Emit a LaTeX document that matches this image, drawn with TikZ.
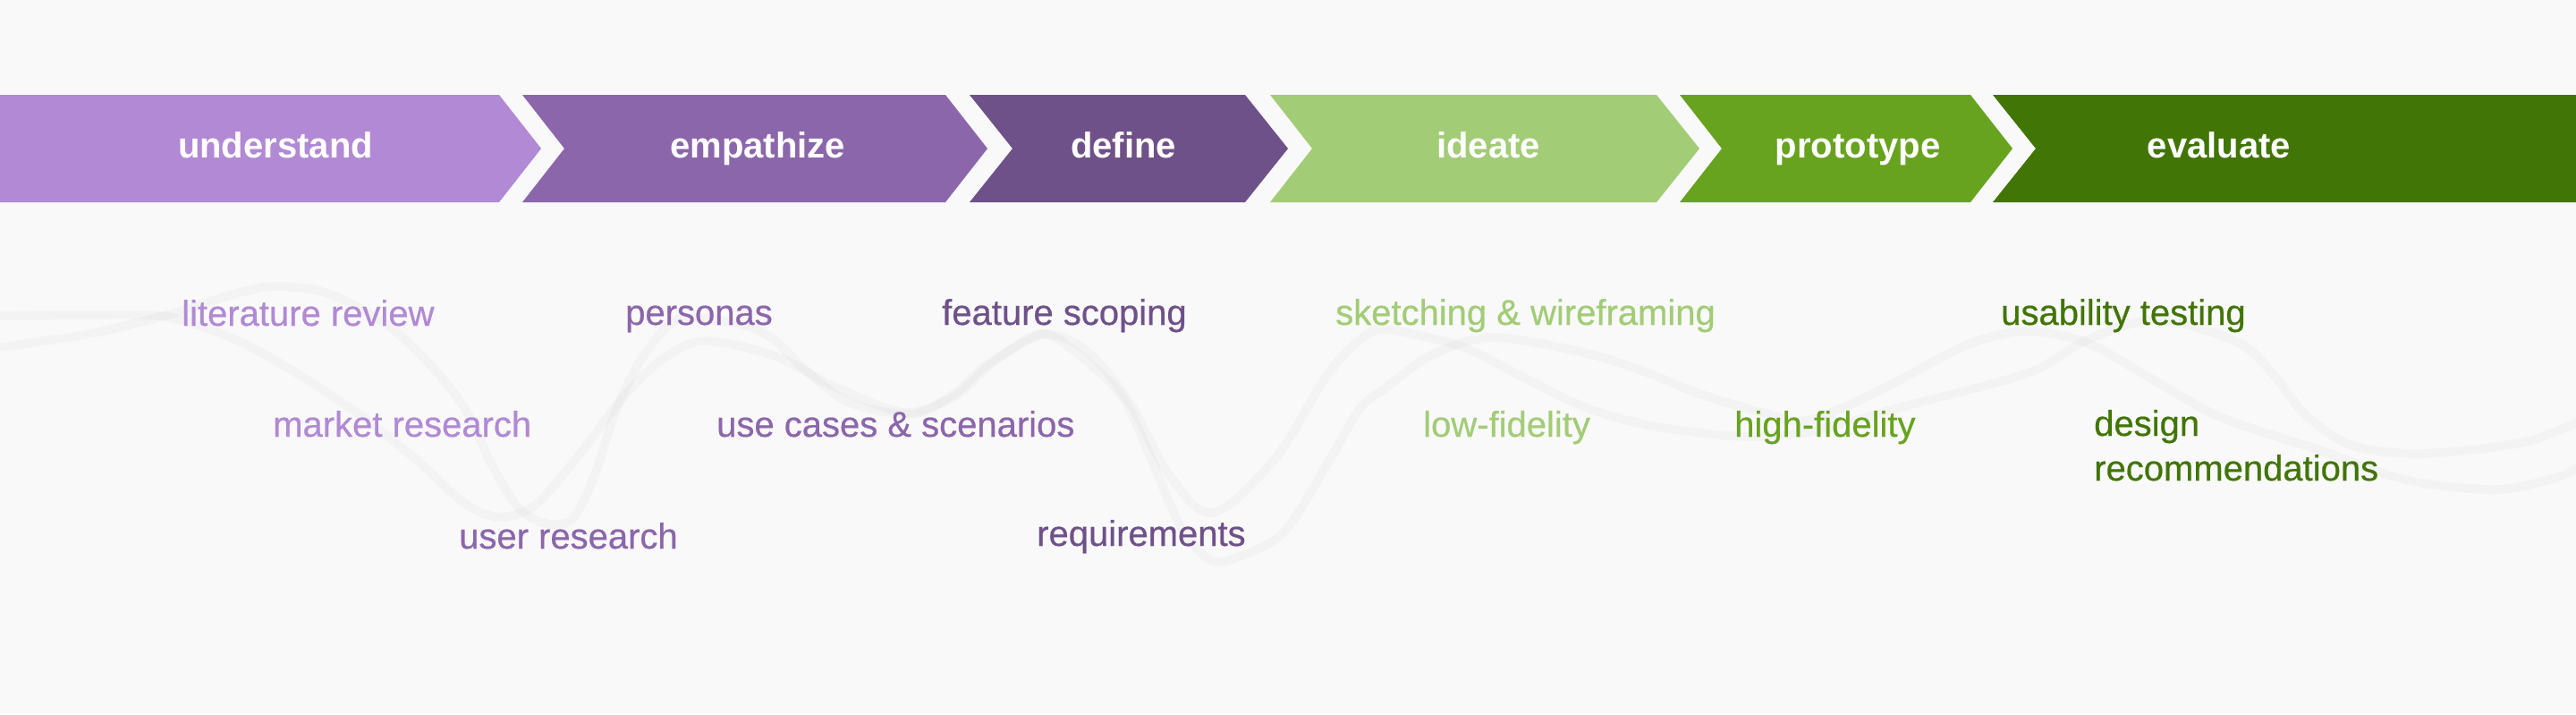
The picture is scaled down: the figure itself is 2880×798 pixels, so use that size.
\documentclass[tikz,border=0pt]{standalone}
\usepackage{fontspec}
\setmainfont{Liberation Sans}
\newfontfamily\subfont[FakeBold=0.5]{Liberation Sans}
\definecolor{bgc}{HTML}{F9F9F9}
\definecolor{cund}{HTML}{B189D4}
\definecolor{cemp}{HTML}{8C66AB}
\definecolor{cdef}{HTML}{6F5189}
\definecolor{cide}{HTML}{A2CC76}
\definecolor{cpro}{HTML}{67A31F}
\definecolor{ceva}{HTML}{417505}
\tikzset{
  head/.style={text=white, inner sep=0pt, anchor=base, font=\bfseries\fontsize{40}{48}\selectfont},
  sub/.style={inner sep=0pt, anchor=base west, align=left, font=\subfont\fontsize{40}{50}\selectfont},
  wave/.style={draw=black, draw opacity=0.022, line width=10pt, line cap=round, line join=round}
}
\begin{document}
\begin{tikzpicture}[x=1pt, y=-1pt]
\useasboundingbox (0,0) rectangle (2880,798);
\fill[bgc] (0,0) rectangle (2880,798);

% background waves
\draw[wave] plot[smooth, tension=0.5] coordinates {
 (0,353) (100,352) (187,354) (267,381) (333,418) (400,462) (467,515) (520,563) (560,578) (600,563)
 (650,505) (700,440) (745,398) (790,381) (867,398) (933,432) (1010,461) (1067,443) (1110,405)
 (1160,374) (1200,382) (1233,410) (1267,457) (1300,520) (1333,563) (1355,573) (1383,557) (1433,503)
 (1483,420) (1520,380) (1550,368) (1633,387) (1700,420) (1767,453) (1833,473) (1933,487) (2020,483)
 (2133,453) (2267,417) (2333,380) (2400,358) (2460,367) (2510,387) (2543,420) (2577,463) (2627,497)
 (2693,507) (2760,503) (2827,493) (2880,473)};
\draw[wave] plot[smooth, tension=0.5] coordinates {
 (0,388) (100,373) (187,352) (267,327) (310,320) (367,328) (433,363) (483,410) (520,457) (550,520)
 (580,568) (610,585) (640,580) (665,530) (690,455) (720,397) (760,356) (833,364) (867,381) (900,413)
 (950,450) (1020,463) (1067,440) (1100,410) (1150,380) (1180,377) (1250,437) (1283,503) (1317,583)
 (1345,620) (1370,627) (1433,597) (1483,520) (1520,457) (1550,433) (1600,397) (1667,377) (1767,393)
 (1833,413) (1900,440) (1967,460) (2020,470) (2100,437) (2200,385) (2267,370) (2333,383) (2400,420)
 (2480,465) (2593,503) (2693,537) (2793,547) (2860,533) (2880,523)};

% chevrons
\fill[cund] (0,106) -- (558,106) -- (605,166) -- (558,226) -- (0,226) -- cycle;
\fill[cemp] (584,106) -- (1057,106) -- (1104,166) -- (1057,226) -- (584,226) -- (631,166) -- cycle;
\fill[cdef] (1084,106) -- (1392,106) -- (1440,166) -- (1392,226) -- (1084,226) -- (1132,166) -- cycle;
\fill[cide] (1420,106) -- (1852,106) -- (1900,166) -- (1852,226) -- (1420,226) -- (1467,166) -- cycle;
\fill[cpro] (1878,106) -- (2203,106) -- (2250,166) -- (2203,226) -- (1878,226) -- (1925,166) -- cycle;
\fill[ceva] (2228,106) -- (2880,106) -- (2880,226) -- (2228,226) -- (2276,166) -- cycle;

\node[head] (understand) at (308,176) {understand};
\node[head] (empathize) at (847,176) {empathize};
\node[head] (define) at (1256,176) {define};
\node[head] (ideate) at (1664,176) {ideate};
\node[head] (prototype) at (2077,176) {prototype};
\node[head] (evaluate) at (2481,176) {evaluate};

% sub labels
\node[sub, text=cund] (litrev) at (203,364) {literature review};
\node[sub, text=cund] (market) at (305,488) {market research};
\node[sub, text=cemp] (user) at (513,613) {user research};
\node[sub, text=cemp] (personas) at (699,363) {personas};
\node[sub, text=cemp] (usecases) at (801,488) {use cases \& scenarios};
\node[sub, text=cdef] (feature) at (1053,363) {feature scoping};
\node[sub, text=cdef] (reqs) at (1159,610) {requirements};
\node[sub, text=cide] (sketch) at (1493,363) {sketching \& wireframing};
\node[sub, text=cide] (lowfi) at (1591,488) {low-fidelity};
\node[sub, text=cpro] (highfi) at (1939,488) {high-fidelity};
\node[sub, text=ceva] (usab) at (2237,363) {usability testing};
\node[sub, text=ceva] (design) at (2341,537) {design\\recommendations};
\end{tikzpicture}
\end{document}
